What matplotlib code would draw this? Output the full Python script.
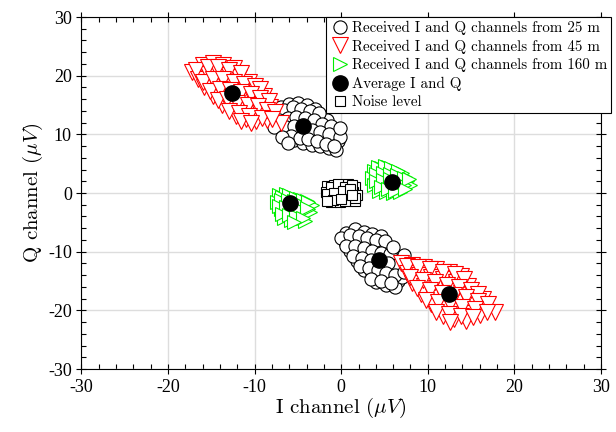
import numpy as np
import matplotlib
matplotlib.use('Agg')
from matplotlib import pyplot as plt

plt.rcParams['font.family'] = 'serif'
plt.rcParams['font.serif'] = ['cmr10', 'DejaVu Serif']
plt.rcParams['mathtext.fontset'] = 'cm'
plt.rcParams['axes.unicode_minus'] = False
plt.rcParams['axes.formatter.use_mathtext'] = True

# received I/Q samples, 25 m (two clusters)
i_25 = [-7.0, -6.0, -5.0, -4.0, -3.0,
        -7.4, -6.4, -5.4, -4.4, -3.4, -2.4, -1.6,
        -6.8, -5.8, -4.8, -3.8, -2.8, -1.8, -0.8,
        -6.2, -5.2, -4.2, -3.2, -2.2, -1.2, -0.4,
        -5.4, -4.4, -3.4, -2.4, -1.4, -0.6,
        -7.8, -6.6, -5.6, -4.6, -3.6, -2.6,
        -7.2, -6.2, -5.2, -4.2, -3.2, -2.2, -1.2,
        -6.4, -5.4, -4.4, -3.4, -2.4, -1.4, -0.2,
        -5.8, -4.8, -3.8, -2.8, -1.8, -0.8,
        -8.0, -7.8, -6.8, -6.2, -0.2,
        0.6, 1.6, 2.6, 3.6, 4.6,
        0.4, 1.4, 2.4, 3.4, 4.4, 5.4,
        1.0, 2.0, 3.0, 4.0, 5.0, 6.0,
        1.8, 2.8, 3.8, 4.8, 5.8, 6.8,
        2.6, 3.6, 4.6, 5.6, 6.6,
        4.0, 5.2, 6.2,
        0.0, 1.0, 2.0, 3.0, 4.0, 5.0,
        0.6, 1.6, 2.6, 3.6, 4.6, 5.6, 6.4,
        1.4, 2.4, 3.4, 4.4, 5.4, 7.0,
        2.2, 3.2, 4.2, 5.2, 6.2,
        3.4, 4.6, 5.8,
        7.2, 7.4, 7.2, 6.0]
q_25 = [14.6, 15.2, 15.4, 15.0, 14.4,
        13.2, 13.6, 14.0, 13.8, 13.2, 12.8, 12.4,
        12.0, 12.2, 12.4, 11.8, 11.6, 11.0, 10.6,
        10.4, 10.8, 10.2, 10.0, 9.6, 9.2, 8.8,
        9.0, 8.6, 8.2, 8.0, 7.6, 7.4,
        13.8, 14.2, 14.6, 14.4, 14.0, 13.6,
        12.4, 12.8, 13.0, 12.8, 12.4, 11.8, 11.4,
        11.2, 11.4, 11.0, 10.8, 10.4, 10.0, 9.6,
        9.8, 9.4, 9.2, 8.8, 8.4, 8.0,
        12.6, 11.2, 9.6, 8.6, 11.0,
        -6.8, -6.2, -6.6, -7.0, -7.4,
        -8.4, -8.0, -8.2, -8.6, -9.0, -9.4,
        -9.8, -10.0, -10.4, -10.8, -11.0, -11.4,
        -11.6, -12.0, -12.4, -12.6, -13.0, -13.4,
        -13.2, -13.6, -14.2, -14.6, -15.0,
        -15.2, -15.6, -16.0,
        -7.6, -7.2, -7.4, -7.6, -8.0, -8.2,
        -9.0, -9.0, -9.4, -9.8, -10.2, -10.4, -12.2,
        -10.8, -11.0, -11.4, -11.8, -12.0, -14.4,
        -12.4, -12.8, -13.2, -13.6, -14.0,
        -14.6, -15.0, -15.4,
        -10.6, -12.0, -13.4, -9.2]

# 45 m
i_45 = [-17.2, -16.0, -14.8, -13.6, -12.4,
        -16.6, -15.4, -14.2, -13.0, -11.8, -10.6,
        -15.8, -14.6, -13.4, -12.2, -11.0, -9.8, -8.9,
        -14.8, -13.8, -12.6, -11.4, -10.2, -9.0, -8.2,
        -13.8, -12.8, -11.6, -10.4, -9.4, -8.0,
        -12.2, -11.0, -9.8, -8.6, -6.9,
        -16.8, -15.4, -14.2, -13.0, -11.6,
        -16.0, -14.8, -13.6, -12.4, -11.2, -10.0, -9.4,
        -15.2, -14.0, -12.8, -11.6, -10.4, -9.4, -8.4,
        -14.2, -13.2, -12.0, -10.8, -9.6, -8.6, -7.6,
        -13.0, -11.8, -10.6, -9.2, -8.0, -11.6, -10.4,
        6.9, 8.2, 9.6, 11.0, 12.4, 13.8,
        7.6, 9.0, 10.4, 11.8, 13.2, 14.6,
        8.2, 9.6, 11.0, 12.4, 13.8, 15.2, 16.4,
        9.2, 10.6, 12.0, 13.4, 14.8, 16.2, 17.8,
        10.4, 11.8, 13.2, 14.6, 16.0,
        11.8, 13.0, 14.4,
        7.6, 8.9, 10.3, 11.7, 13.1, 14.2,
        8.0, 9.4, 10.8, 12.2, 13.6, 15.0, 15.8,
        8.8, 10.2, 11.6, 13.0, 14.4, 15.8, 17.0,
        9.8, 11.2, 12.6, 14.0, 15.4, 16.8,
        11.0, 12.4, 13.8, 15.2, 12.6]
q_45 = [20.6, 21.8, 22.2, 21.9, 21.3,
        19.4, 20.3, 20.6, 20.2, 19.8, 19.0,
        18.0, 18.8, 18.6, 18.4, 17.6, 17.4, 16.6,
        16.6, 17.1, 16.4, 16.0, 15.8, 15.2, 14.6,
        15.0, 14.6, 14.2, 13.8, 13.6, 13.2,
        13.2, 12.6, 12.2, 12.4, 11.9,
        21.0, 21.4, 21.4, 21.0, 20.4,
        19.0, 19.4, 19.4, 19.0, 18.6, 18.2, 17.8,
        17.4, 17.8, 17.6, 17.2, 16.8, 16.2, 15.6,
        15.8, 16.0, 15.4, 15.0, 14.8, 14.2, 13.8,
        14.0, 13.6, 13.2, 12.8, 12.6, 12.2, 11.9,
        -11.9, -12.2, -12.6, -13.0, -13.4, -14.2,
        -13.6, -14.0, -14.4, -14.6, -15.2, -15.8,
        -15.4, -15.8, -16.2, -16.6, -17.0, -17.4, -18.0,
        -17.2, -17.6, -18.0, -18.4, -18.8, -19.2, -20.2,
        -19.0, -19.6, -20.0, -20.4, -20.8,
        -21.0, -21.5, -21.8,
        -12.4, -12.6, -13.0, -13.4, -13.8, -14.6,
        -14.4, -14.8, -15.2, -15.6, -16.0, -16.6, -17.2,
        -16.2, -16.6, -17.0, -17.4, -17.8, -18.4, -19.0,
        -18.2, -18.6, -19.0, -19.4, -19.8, -20.2,
        -20.2, -20.6, -21.0, -21.2, -22.0]

# 160 m
i_160 = [3.8, 4.6, 5.4, 6.2, 7.0,
         3.6, 4.4, 5.2, 6.0, 6.8, 7.6,
         3.8, 4.6, 5.4, 6.2, 7.0, 8.0,
         4.4, 5.2, 6.0, 6.8, 5.0, 7.4, 5.6,
         4.2, 5.0, 5.8, 6.6, 4.0, 4.8, 5.6, 6.4, 7.2, 4.0,
         4.8, 5.6, 6.4, 7.2, 7.8, 4.6, 5.4, 6.2, 7.4,
         -7.2, -6.4, -5.6, -4.8, -4.0,
         -7.4, -6.6, -5.8, -5.0, -4.2, -3.4,
         -7.0, -6.2, -5.4, -4.6, -3.6,
         -6.6, -5.8, -5.0, -4.2, -6.0, -3.8,
         -6.8, -6.0, -5.2, -4.4, -7.0, -6.2, -5.4, -4.6, -3.8, -7.2,
         -6.4, -5.6, -4.8, -4.0, -6.8, -6.0, -5.2, -4.4, -5.4]
q_160 = [3.8, 4.2, 4.4, 4.0, 3.4,
         2.6, 3.0, 2.8, 2.4, 2.2, 2.0,
         1.4, 1.6, 1.2, 1.0, 0.8, 1.4,
         0.4, 0.2, 0.0, 0.2, 3.6, 2.8, 1.8,
         4.4, 4.6, 4.2, 3.8, 3.2, 3.4, 3.2, 3.0, 2.6, 2.0,
         2.2, 2.4, 1.8, 1.4, 2.4, 1.0, 0.6, 0.4, 0.6,
         -0.4, -0.2, -0.6, -1.0, -1.4,
         -1.6, -1.4, -1.8, -2.2, -2.4, -2.0,
         -2.8, -3.0, -3.4, -3.6, -3.2,
         -4.2, -4.6, -4.4, -4.8, -1.0, -2.8,
         -0.6, -0.4, -0.8, -1.2, -1.2, -1.2, -1.4, -1.8, -1.6, -2.2,
         -2.4, -2.6, -2.8, -2.6, -3.6, -3.8, -4.0, -4.2, -5.0]

# averages
avg_i = [-12.6, 12.5, -4.4, 4.4, 5.9, -5.9]
avg_q = [17.1, -17.2, 11.4, -11.4, 1.8, -1.7]

# noise
noise_i = [-1.6, -0.8, 0.0, 0.8, 1.6, -1.8, -1.0, -0.2, 0.6, 1.4,
           1.8, -1.4, -0.6, 0.2, 1.0, 1.6, -1.2, -0.2, 0.8, -0.4,
           -1.2, -0.4, 0.4, 1.2, -1.6, -0.8, 0.2, 1.0, 1.6, -1.0,
           0.4, 1.2, -1.6, 0.0]
noise_q = [1.2, 1.4, 1.3, 1.5, 1.0, 0.2, 0.4, 0.0, 0.5, 0.2,
           -0.4, -0.8, -1.0, -0.6, -1.2, -1.4, -1.6, -1.5, -0.2, 0.8,
           1.0, 1.6, 1.0, 1.4, -0.2, 0.0, 0.4, 0.6, -0.8, -1.2,
           -1.4, -0.4, -1.4, -1.0]

ticks = [-30, -20, -10, 0, 10, 20, 30]

fig = plt.figure(figsize=(6.16, 4.32), dpi=100)
ax = fig.add_axes([0.1323, 0.1458, 0.8433, 0.8148])

ax.plot(i_25, q_25, 'o', ms=9.5, mfc='white', mec='black', mew=0.8,
        label='Received I and Q channels from 25 m')
ax.plot(i_45, q_45, 'v', ms=11.5, mfc='white', mec='red', mew=0.8,
        label='Received I and Q channels from 45 m')
ax.plot(i_160, q_160, '>', ms=10, mfc='white', mec='#00ee00', mew=0.8,
        label='Received I and Q channels from 160 m')
ax.plot(avg_i, avg_q, 'o', ms=11, color='black', label='Average I and Q')
ax.plot(noise_i, noise_q, 's', ms=7.5, mfc='white', mec='black', mew=0.8,
        label='Noise level')

ax.set_xlim(-30, 30)
ax.set_ylim(-30, 30)
ax.set_xticks(ticks)
ax.set_yticks(ticks)
ax.set_xticks(np.arange(-30, 31, 2), minor=True)
ax.set_yticks(np.arange(-30, 31, 2), minor=True)
ax.set_xticklabels([str(t) for t in ticks], family='Liberation Serif', fontsize=13)
ax.set_yticklabels([str(t) for t in ticks], family='Liberation Serif', fontsize=13)
ax.tick_params(which='major', direction='inout', length=7, width=0.8,
               top=True, right=True)
ax.tick_params(which='minor', direction='in', length=3.5, width=0.8,
               top=True, right=True)
ax.grid(True, which='major', color='#dddddd', lw=1.0)
ax.set_axisbelow(True)

ax.set_xlabel(r'I channel ($\mu V$)', fontsize=15, labelpad=0)
ax.set_ylabel(r'Q channel ($\mu V$)', fontsize=15, labelpad=2)

leg = ax.legend(loc='upper right', bbox_to_anchor=(611 / 616, 1 - 17 / 432),
                bbox_transform=fig.transFigure, borderaxespad=0,
                fancybox=False, framealpha=1, edgecolor='black',
                fontsize=10.8, handletextpad=0.15, handlelength=1.3,
                borderpad=0.25, labelspacing=0.3)
leg.get_frame().set_linewidth(0.8)

plt.savefig('out.png', dpi=100)
plt.close()
